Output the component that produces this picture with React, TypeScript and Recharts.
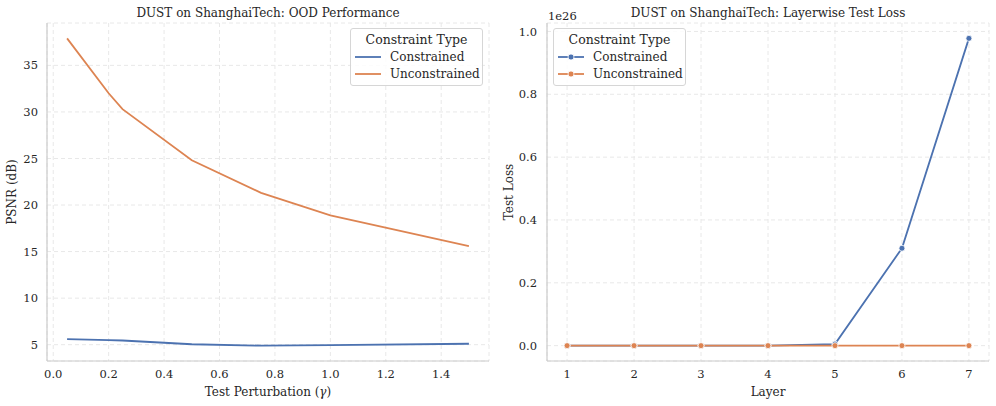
import React from "react";
import { LineChart, Line, XAxis, YAxis, CartesianGrid, Legend } from "recharts";

const gammaValues = [0.05, 0.2, 0.25, 0.5, 0.75, 1.0, 1.5];
const psnrConstrained = [5.6, 5.5, 5.45, 5.05, 4.9, 4.95, 5.1];
const psnrUnconstrained = [37.9, 32.0, 30.3, 24.8, 21.3, 18.9, 15.6];
const gammaTicks = [0, 0.2, 0.4, 0.6, 0.8, 1.0, 1.2, 1.4];
const psnrTicks = [5, 10, 15, 20, 25, 30, 35];

const layers = [1, 2, 3, 4, 5, 6, 7];
const lossConstrained = [0, 0, 0, 0, 0.005e26, 0.31e26, 0.978e26];
const lossUnconstrained = [0, 0, 0, 0, 0, 0, 0];
const lossTicks = [0, 0.2e26, 0.4e26, 0.6e26, 0.8e26, 1.0e26];

const BLUE = "#4c72b0";
const ORANGE = "#dd8452";
const TEXT = "#262626";
const SPINE = "#cccccc";
const FONT = "'DejaVu Serif', serif";

const oodData = gammaValues.map((g, i) => ({
  gamma: g,
  Constrained: psnrConstrained[i],
  Unconstrained: psnrUnconstrained[i],
}));

const layerData = layers.map((l, i) => ({
  layer: l,
  Constrained: lossConstrained[i],
  Unconstrained: lossUnconstrained[i],
}));

// matplotlib-style 5% margins
function padded(values: number[]): [number, number] {
  const lo = Math.min(...values);
  const hi = Math.max(...values);
  const pad = (hi - lo) * 0.05;
  return [lo - pad, hi + pad];
}

const tickStyle = { fill: TEXT, fontSize: 11.5, fontFamily: FONT };

function LegendBox({ payload, markers }: any) {
  return (
    <div
      style={{
        border: "1px solid #d6d6d6",
        borderRadius: 3,
        background: "rgba(255,255,255,0.85)",
        fontFamily: FONT,
        color: TEXT,
        fontSize: 12,
        padding: "2px 0 3px 0",
        boxSizing: "border-box",
        width: 133,
      }}
    >
      <div style={{ textAlign: "center", lineHeight: "17px", fontSize: 12.5 }}>
        Constraint Type
      </div>
      {(payload || []).map((p: any) => (
        <div
          key={p.value}
          style={{ display: "flex", alignItems: "center", height: 17 }}
        >
          <svg width={35} height={10} style={{ marginLeft: 4 }}>
            <line x1={0} y1={5} x2={26} y2={5} stroke={p.color} strokeWidth={1.8} />
            {markers && <circle cx={13} cy={5} r={3} fill={p.color} stroke="#fff" strokeWidth={0.8} />}
          </svg>
          <span>{p.value}</span>
        </div>
      ))}
    </div>
  );
}

function Title({ left, text }: { left: number; text: string }) {
  return (
    <div
      style={{
        position: "absolute",
        left,
        top: 6,
        width: 442,
        textAlign: "center",
        fontFamily: FONT,
        fontSize: 12,
        color: TEXT,
      }}
    >
      {text}
    </div>
  );
}

function YLabel({ x, text }: { x: number; text: string }) {
  return (
    <div
      style={{
        position: "absolute",
        left: x - 100,
        top: 192 - 8,
        width: 200,
        height: 16,
        lineHeight: "16px",
        textAlign: "center",
        transform: "rotate(-90deg)",
        fontFamily: FONT,
        fontSize: 12,
        color: TEXT,
      }}
    >
      {text}
    </div>
  );
}

function XLabel({ left, children }: { left: number; children: React.ReactNode }) {
  return (
    <div
      style={{
        position: "absolute",
        left,
        top: 385,
        width: 442,
        textAlign: "center",
        fontFamily: FONT,
        fontSize: 12,
        color: TEXT,
      }}
    >
      {children}
    </div>
  );
}

export default function App() {
  const gammaDomain = padded(gammaValues);
  const psnrDomain = padded([...psnrConstrained, ...psnrUnconstrained]);
  const layerDomain = padded(layers);
  const lossDomain = padded([...lossConstrained, ...lossUnconstrained]);

  return (
    <div style={{ position: "absolute", left: 0, top: 0, width: 996, height: 406, background: "#fff" }}>
      <div style={{ position: "absolute", left: 0, top: 0 }}>
        <LineChart width={498} height={406} data={oodData} margin={{ top: 23, right: 9, left: 0, bottom: 0 }}>
          <CartesianGrid stroke="#e8e8e8" strokeDasharray="4 3" />
          <XAxis
            dataKey="gamma"
            type="number"
            domain={gammaDomain}
            ticks={gammaTicks}
            allowDataOverflow
            tickFormatter={(v: number) => v.toFixed(1)}
            tick={tickStyle}
            tickLine={false}
            tickSize={0}
            tickMargin={9}
            height={45}
            axisLine={{ stroke: SPINE, strokeWidth: 1.2 }}
          />
          <XAxis xAxisId="top" orientation="top" height={0} tick={false} tickLine={false} axisLine={{ stroke: SPINE, strokeWidth: 1.2 }} />
          <YAxis
            type="number"
            domain={psnrDomain}
            ticks={psnrTicks}
            allowDataOverflow
            tick={tickStyle}
            tickLine={false}
            tickSize={0}
            tickMargin={9}
            width={47}
            axisLine={{ stroke: SPINE, strokeWidth: 1.2 }}
          />
          <YAxis yAxisId="right" orientation="right" width={0} tick={false} tickLine={false} axisLine={{ stroke: SPINE, strokeWidth: 1.2 }} />
          <Legend
            layout="horizontal"
            verticalAlign="middle"
            width={133}
            wrapperStyle={{ left: 350, top: 28 }}
            content={(props: any) => <LegendBox {...props} markers={false} />}
          />
          <Line dataKey="Constrained" stroke={BLUE} strokeWidth={1.8} dot={false} isAnimationActive={false} />
          <Line dataKey="Unconstrained" stroke={ORANGE} strokeWidth={1.8} dot={false} isAnimationActive={false} />
        </LineChart>
      </div>
      <div style={{ position: "absolute", left: 498, top: 0 }}>
        <LineChart width={498} height={406} data={layerData} margin={{ top: 23, right: 7, left: 0, bottom: 0 }}>
          <CartesianGrid stroke="#e8e8e8" strokeDasharray="4 3" />
          <XAxis
            dataKey="layer"
            type="number"
            domain={layerDomain}
            ticks={layers}
            allowDataOverflow
            tick={tickStyle}
            tickLine={false}
            tickSize={0}
            tickMargin={9}
            height={45}
            axisLine={{ stroke: SPINE, strokeWidth: 1.2 }}
          />
          <XAxis xAxisId="top" orientation="top" height={0} tick={false} tickLine={false} axisLine={{ stroke: SPINE, strokeWidth: 1.2 }} />
          <YAxis
            type="number"
            domain={lossDomain}
            ticks={lossTicks}
            allowDataOverflow
            tickFormatter={(v: number) => (v / 1e26).toFixed(1)}
            tick={tickStyle}
            tickLine={false}
            tickSize={0}
            tickMargin={10}
            width={49}
            axisLine={{ stroke: SPINE, strokeWidth: 1.2 }}
          />
          <YAxis yAxisId="right" orientation="right" width={0} tick={false} tickLine={false} axisLine={{ stroke: SPINE, strokeWidth: 1.2 }} />
          <Legend
            layout="horizontal"
            verticalAlign="middle"
            width={133}
            wrapperStyle={{ left: 55, top: 28 }}
            content={(props: any) => <LegendBox {...props} markers />}
          />
          <Line
            dataKey="Constrained"
            stroke={BLUE}
            strokeWidth={1.8}
            dot={{ r: 3, fill: BLUE, stroke: "#fff", strokeWidth: 0.8 }}
            isAnimationActive={false}
          />
          <Line
            dataKey="Unconstrained"
            stroke={ORANGE}
            strokeWidth={1.8}
            dot={{ r: 3, fill: ORANGE, stroke: "#fff", strokeWidth: 0.8 }}
            isAnimationActive={false}
          />
        </LineChart>
      </div>
      <Title left={47} text="DUST on ShanghaiTech: OOD Performance" />
      <Title left={547} text="DUST on ShanghaiTech: Layerwise Test Loss" />
      <YLabel x={12} text="PSNR (dB)" />
      <YLabel x={509} text="Test Loss" />
      <XLabel left={47}>
        Test Perturbation (<span style={{ fontStyle: "italic" }}>γ</span>)
      </XLabel>
      <XLabel left={547}>Layer</XLabel>
      <div style={{ position: "absolute", left: 548, top: 9, fontFamily: FONT, fontSize: 11.5, color: TEXT }}>
        1e26
      </div>
    </div>
  );
}
